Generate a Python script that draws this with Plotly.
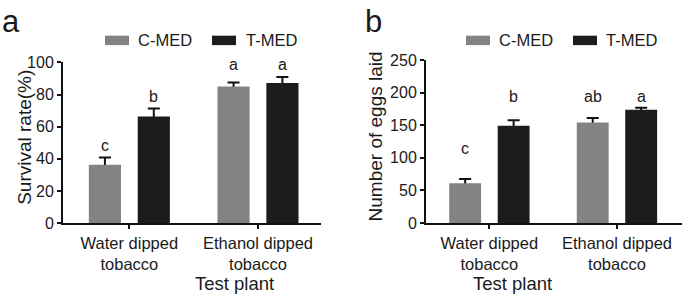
import plotly.graph_objects as go

# ---------------- data ----------------
groups = ["Water dipped<br>tobacco", "Ethanol dipped<br>tobacco"]
series = ["C-MED", "T-MED"]

survival_c = [36.3, 85.0]
survival_c_err = [4.5, 2.5]
survival_t = [66.3, 87.2]
survival_t_err = [5.0, 3.7]
survival_letters_c = ["c", "a"]
survival_letters_t = ["b", "a"]
survival_letter_y_c = [48.4, 98.9]
survival_letter_y_t = [78.9, 98.9]

eggs_c = [61.0, 154.0]
eggs_c_err = [6.7, 7.2]
eggs_t = [149.0, 173.5]
eggs_t_err = [8.5, 3.3]
eggs_letters_c = ["c", "ab"]
eggs_letters_t = ["b", "a"]
eggs_letter_y_c = [114.8, 194.5]
eggs_letter_y_t = [194.5, 194.5]

# ---------------- style ----------------
W, H = 685, 306
FONT = "Liberation Sans, Arial, sans-serif"
TXT = "#1a1a1a"
GRAY = "#838383"
BLACK = "#1c1c1c"
OFF = 0.19
BW = 0.25


def px(x):
    return x / W


def py(y):
    return 1 - y / H


fig = go.Figure()

panels = [
    dict(xa="x", ya="y", xo="x3", yo="y3", c=survival_c, ce=survival_c_err, t=survival_t, te=survival_t_err,
         lc=survival_letters_c, lt=survival_letters_t, lyc=survival_letter_y_c, lyt=survival_letter_y_t),
    dict(xa="x2", ya="y2", xo="x4", yo="y4", c=eggs_c, ce=eggs_c_err, t=eggs_t, te=eggs_t_err,
         lc=eggs_letters_c, lt=eggs_letters_t, lyc=eggs_letter_y_c, lyt=eggs_letter_y_t),
]

for p in panels:
    idx = list(range(len(groups)))
    for vals, errs, off, col, name, letters, ly in [
        (p["c"], p["ce"], -OFF, GRAY, series[0], p["lc"], p["lyc"]),
        (p["t"], p["te"], OFF, BLACK, series[1], p["lt"], p["lyt"]),
    ]:
        xs = [i + off for i in idx]
        # error bars on the underlying axes (drawn beneath the bars, so only the upper part shows)
        fig.add_trace(go.Scatter(
            x=xs, y=vals, mode="markers", marker=dict(size=1, opacity=0),
            error_y=dict(type="data", symmetric=False, array=errs, arrayminus=vals,
                         color="#111111", thickness=2, width=6),
            xaxis=p["xa"], yaxis=p["ya"], showlegend=False, hoverinfo="skip"))
        # bars on the overlay axes
        fig.add_trace(go.Bar(
            x=xs, y=vals, width=BW, marker=dict(color=col, line=dict(width=0)),
            name=name, xaxis=p["xo"], yaxis=p["yo"], showlegend=False))
        for xv, yv, lt in zip(xs, ly, letters):
            fig.add_annotation(x=xv, y=yv, xref=p["xo"], yref=p["yo"], text=lt, showarrow=False,
                               yanchor="middle", xanchor="center",
                               font=dict(family=FONT, size=16, color=TXT))

axis_common = dict(showline=True, linecolor="#111111", linewidth=2, ticks="outside",
                   ticklen=4, tickwidth=2, tickcolor="#111111", showgrid=False, zeroline=False)
yfont = dict(tickfont=dict(family=FONT, size=16, color=TXT))
xfont = dict(tickfont=dict(family=FONT, size=16.5, color=TXT))

xdom_a = [px(63), px(321)]
xdom_b = [px(426), px(682)]
ydom_a = [py(227.7), py(57.7)]
ydom_b = [py(227.7), py(55)]
xr_a = [-0.516, 1.49]
xr_b = [-0.497, 1.51]

fig.update_layout(
    width=W, height=H, margin=dict(l=0, r=0, t=0, b=0),
    plot_bgcolor="white", paper_bgcolor="white", showlegend=False,
    font=dict(family=FONT, color=TXT),
    xaxis=dict(domain=xdom_a, range=xr_a, tickvals=[0, 1], ticktext=groups, anchor="y", **axis_common, **xfont),
    yaxis=dict(domain=ydom_a, range=[0, 100], dtick=20, anchor="x", **axis_common, **yfont),
    xaxis2=dict(domain=xdom_b, range=xr_b, tickvals=[0, 1], ticktext=groups, anchor="y2", **axis_common, **xfont),
    yaxis2=dict(domain=ydom_b, range=[0, 250], dtick=50, anchor="x2", **axis_common, **yfont),
    xaxis3=dict(overlaying="x", range=xr_a, visible=False, anchor="y3"),
    yaxis3=dict(overlaying="y", range=[0, 100], visible=False, anchor="x3"),
    xaxis4=dict(overlaying="x2", range=xr_b, visible=False, anchor="y4"),
    yaxis4=dict(overlaying="y2", range=[0, 250], visible=False, anchor="x4"),
)

# axis titles
fig.add_annotation(x=px(12.5), y=py(137.5), xref="paper", yref="paper", text="Survival rate(%)",
                   textangle=-90, showarrow=False, font=dict(family=FONT, size=19, color=TXT))
fig.add_annotation(x=px(375), y=py(136), xref="paper", yref="paper", text="Number of eggs laid",
                   textangle=-90, showarrow=False, font=dict(family=FONT, size=19, color=TXT))
fig.add_annotation(x=px(193.5), y=py(291.8), xref="paper", yref="paper", text="Test plant",
                   yanchor="middle", showarrow=False, font=dict(family=FONT, size=18.5, color=TXT))
fig.add_annotation(x=px(554), y=py(291.8), xref="paper", yref="paper", text="Test plant",
                   yanchor="middle", showarrow=False, font=dict(family=FONT, size=18.5, color=TXT))

# panel letters
fig.add_annotation(x=px(0), y=py(14.3), xref="paper", yref="paper", text="a", xanchor="left",
                   yanchor="middle", showarrow=False, font=dict(family=FONT, size=31, color=TXT))
fig.add_annotation(x=px(363), y=py(14.3), xref="paper", yref="paper", text="b", xanchor="left",
                   yanchor="middle", showarrow=False, font=dict(family=FONT, size=31, color=TXT))

# legends (box + label)
for bx, tx in [((105, 212), (136, 244)), ((466, 573), (497, 604))]:
    for i, (b, t, col) in enumerate(zip(bx, tx, [GRAY, BLACK])):
        fig.add_shape(type="rect", xref="paper", yref="paper", x0=px(b), x1=px(b + 24),
                      y0=py(39.3), y1=py(29.3), fillcolor=col, line=dict(width=0))
        fig.add_annotation(x=px(t), y=py(34), xref="paper", yref="paper", text=series[i],
                           xanchor="left", yanchor="middle", showarrow=False,
                           font=dict(family=FONT, size=16.5, color=TXT))

fig.write_html("out.html", config={"displayModeBar": False},
               post_script="document.body.style.margin='0';document.body.style.overflow='hidden';")
